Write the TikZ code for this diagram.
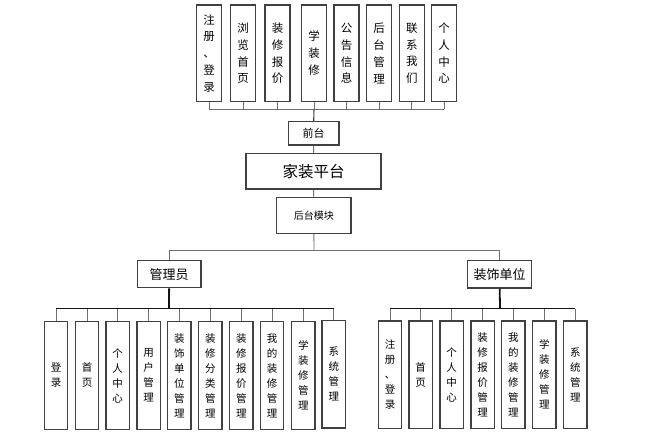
\documentclass[tikz,border=0pt]{standalone}
\usepackage{fontspec}
\usepackage{xcolor}
\usepackage{tikz}
\usetikzlibrary{positioning, calc}
\setmainfont{Noto Sans CJK SC}
\definecolor{boxborder}{RGB}{64, 64, 64}
\definecolor{busgray}{RGB}{110, 110, 110}
\definecolor{stemblack}{RGB}{20, 20, 20}
\tikzset{
  baseblock/.style={
    rectangle, draw=boxborder, fill=white, line width=1.2pt,
    inner sep=0pt, align=center
  },
  topblock/.style={baseblock, minimum width=25pt, minimum height=96.7pt,
    font=\fontsize{11.5}{16.8}\selectfont},
  leafblock/.style={baseblock, minimum width=23.5pt, minimum height=107.5pt,
    font=\fontsize{10.5}{15}\selectfont},
  roleblock/.style={baseblock, minimum height=27.4pt,
    font=\fontsize{13}{15}\selectfont},
  busline/.style={draw=busgray, line width=0.9pt},
  stemline/.style={draw=stemblack, line width=1.8pt},
  thinstem/.style={draw=stemblack!80, line width=1.1pt}
}
\begin{document}
\begin{tikzpicture}[x=1pt, y=-1pt]
  \useasboundingbox (0,0) rectangle (648,436);
  \fill[white] (0,0) rectangle (648,436);

  % Top row: front-end modules
  \node[topblock] (t1) at (209.2,53.3) {注\\册\\、\\登\\录};
  \node[topblock] (t2) at (243.2,53.3) {浏\\览\\首\\页};
  \node[topblock] (t3) at (277.5,53.3) {装\\修\\报\\价};
  \node[topblock] (t4) at (314.2,53.3) {学\\装\\修};
  \node[topblock] (t5) at (346.5,53.3) {公\\告\\信\\息};
  \node[topblock] (t6) at (379.2,53.3) {后\\台\\管\\理};
  \node[topblock] (t7) at (411.8,53.3) {联\\系\\我\\们};
  \node[topblock] (t8) at (444.2,53.3) {个\\人\\中\\心};

  % Centre column
  \node[baseblock, minimum width=50.7pt, minimum height=23.3pt,
    font=\fontsize{11}{13}\selectfont] (front) at (313.7,133.3) {前台};
  \node[baseblock, minimum width=135pt, minimum height=35.7pt,
    font=\fontsize{15.5}{18}\selectfont] (platform) at (313.5,171.2) {家装平台};
  \node[baseblock, minimum width=74.3pt, minimum height=36pt,
    font=\fontsize{10}{12}\selectfont] (back) at (313.8,215.3) {后台模块};

  % Roles
  \node[roleblock, minimum width=63.7pt] (admin) at (169.2,274.1) {管理员};
  \node[roleblock, minimum width=64pt] (unit) at (499.5,274.2) {装饰单位};

  % Admin leaves
  \node[leafblock] (a1) at (56,375.5) {登\\录};
  \node[leafblock] (a2) at (87,375.5) {首\\页};
  \node[leafblock] (a3) at (117.7,375.5) {个\\人\\中\\心};
  \node[leafblock] (a4) at (148.7,375.5) {用\\户\\管\\理};
  \node[leafblock] (a5) at (179.3,375.5) {装\\饰\\单\\位\\管\\理};
  \node[leafblock] (a6) at (210.3,375.5) {装\\修\\分\\类\\管\\理};
  \node[leafblock] (a7) at (241.3,375.5) {装\\修\\报\\价\\管\\理};
  \node[leafblock] (a8) at (272.1,375.5) {我\\的\\装\\修\\管\\理};
  \node[leafblock] (a9) at (303.3,375.5) {学\\装\\修\\管\\理};
  \node[leafblock] (a10) at (333.8,374.2) {系\\统\\管\\理};

  % Decoration-unit leaves
  \node[leafblock] (u1) at (390,374.7) {注\\册\\、\\登\\录};
  \node[leafblock] (u2) at (420.7,374.7) {首\\页};
  \node[leafblock] (u3) at (451.7,374.7) {个\\人\\中\\心};
  \node[leafblock] (u4) at (482.7,374.7) {装\\修\\报\\价\\管\\理};
  \node[leafblock] (u5) at (513.3,374.7) {我\\的\\装\\修\\管\\理};
  \node[leafblock] (u6) at (544.3,374.7) {学\\装\\修\\管\\理};
  \node[leafblock] (u7) at (575.3,374.7) {系\\统\\管\\理};

  % Bus coordinates
  \coordinate (topbus) at (314,109.3);
  \coordinate (rolebus) at (314,250.7);
  \coordinate (adminbus) at (169,308.6);
  \coordinate (unitbus) at (500,308.6);

  % Top tree
  \foreach \n in {t1,t2,t3,t4,t5,t6,t7,t8}
    \draw[busline] (\n.south) -- (\n.south |- topbus);
  \draw[busline] (t1.south |- topbus) -- (t8.south |- topbus);
  \draw[thinstem] (topbus) -- (front.north);
  \draw[busline] (front) -- (platform);
  \draw[busline] (platform) -- (back);

  % Roles tree
  \draw[busline] (back) -- (rolebus);
  \draw[busline] (admin.north) |- (rolebus) -| (unit.north);

  % Admin tree
  \draw[stemline] (admin) -- (adminbus);
  \foreach \n in {a1,a2,a3,a4,a5,a6,a7,a8,a9,a10}
    \draw[busline] (\n.north) -- (\n.north |- adminbus);
  \draw[stemline, line width=1.3pt] (a1.north |- adminbus) -- (a10.north |- adminbus);

  % Unit tree
  \draw[stemline] (unit) -- (unitbus);
  \foreach \n in {u1,u2,u3,u4,u5,u6,u7}
    \draw[busline] (\n.north) -- (\n.north |- unitbus);
  \draw[stemline, line width=1.3pt] (u1.north |- unitbus) -- (u7.north |- unitbus);
\end{tikzpicture}
\end{document}
